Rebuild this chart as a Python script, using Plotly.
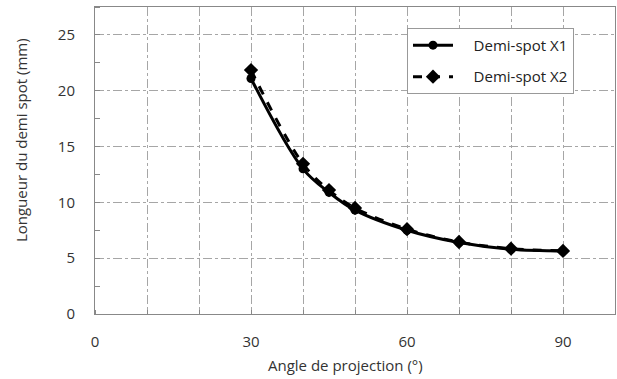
import plotly.graph_objects as go

angles = [30, 40, 45, 50, 60, 70, 80, 90]
x1_vals = [21.1, 13.0, 10.9, 9.3, 7.5, 6.4, 5.8, 5.65]
x2_vals = [21.85, 13.45, 11.1, 9.5, 7.6, 6.45, 5.85, 5.65]
series_names = ["Demi-spot X1", "Demi-spot X2"]
x_ticks = [0, 30, 60, 90]
y_ticks = [0, 5, 10, 15, 20, 25]
x_title = "Angle de projection (°)"
y_title = "Longueur du demi spot (mm)"

font_family = "Open Sans, Noto Sans, sans-serif"
grid_col = "#a6a6a6"
text_col = "#333333"
pad = "\u00a0" * 4

fig = go.Figure()
fig.add_trace(go.Scatter(
    x=angles, y=x1_vals, name=pad + series_names[0], mode="lines+markers",
    legendgroup="g1",
    line=dict(color="black", width=3, shape="spline"),
    marker=dict(symbol="circle", size=9, color="black"),
))
fig.add_trace(go.Scatter(
    x=angles, y=x2_vals, name=pad + series_names[1], mode="lines+markers",
    legendgroup="g2",
    line=dict(color="black", width=3, dash="dash", shape="spline"),
    marker=dict(symbol="diamond", size=11, color="black"),
))

fig.update_layout(
    width=617, height=379,
    margin=dict(l=95, r=2, t=7, b=65, autoexpand=False),
    paper_bgcolor="white", plot_bgcolor="white",
    font=dict(family=font_family, size=15, color=text_col),
    showlegend=True,
    legend=dict(
        x=0.6, y=0.932, xanchor="left", yanchor="top",
        bgcolor="white", bordercolor="#999999", borderwidth=1,
        font=dict(size=15, color="#222222"),
        tracegroupgap=9, itemwidth=40,
    ),
    xaxis=dict(
        range=[0, 100], tickvals=x_ticks, ticktext=[str(v) for v in x_ticks],
        showgrid=True, gridcolor=grid_col, griddash="dashdot", gridwidth=1,
        minor=dict(dtick=10, showgrid=True, gridcolor=grid_col, griddash="dashdot",
                   ticks="inside", ticklen=4, tickcolor="#888888"),
        showline=True, linecolor="#888888", linewidth=1, mirror=True,
        ticks="", ticklabelstandoff=14, zeroline=False, automargin=False,
    ),
    yaxis=dict(
        range=[0, 27.5], tickvals=y_ticks,
        showgrid=True, gridcolor=grid_col, griddash="dashdot", gridwidth=1,
        minor=dict(dtick=2.5, showgrid=False, ticks="inside", ticklen=5, tickcolor="#888888"),
        showline=True, linecolor="#888888", linewidth=1, mirror=True,
        ticks="", ticklabelstandoff=16, zeroline=False, automargin=False,
    ),
    annotations=[
        dict(text=x_title, xref="paper", yref="paper", x=0.481, y=-0.166,
             xanchor="center", yanchor="middle", showarrow=False,
             font=dict(size=15, color=text_col)),
        dict(text=y_title, xref="paper", yref="paper", x=-0.142, y=0.567,
             xanchor="center", yanchor="middle", showarrow=False, textangle=-90,
             font=dict(size=15, color=text_col)),
    ],
)

fig.write_html(
    "out.html",
    config={"displayModeBar": False},
    post_script="document.body.style.margin='0';document.body.style.overflow='hidden';",
)
